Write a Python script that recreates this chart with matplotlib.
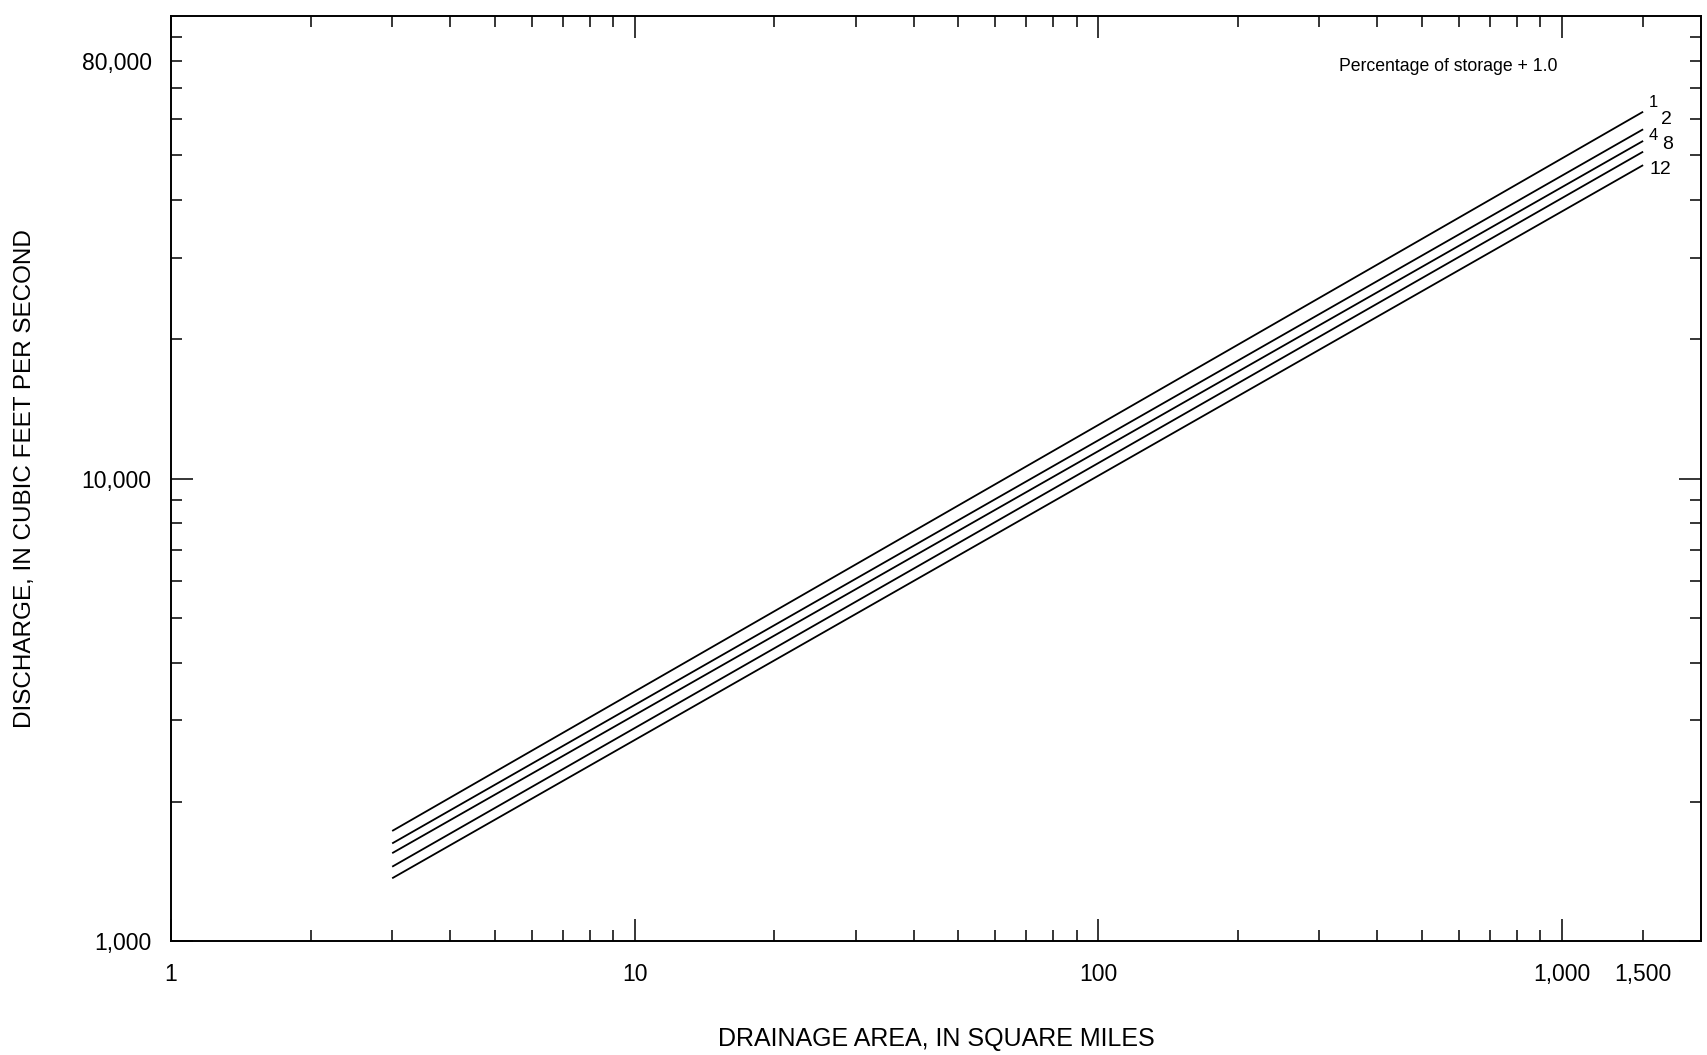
import matplotlib
matplotlib.use('Agg')
import matplotlib.pyplot as plt
from matplotlib.ticker import FixedLocator, NullFormatter

plt.rcParams['font.family'] = ['Liberation Sans', 'DejaVu Sans']

# drainage area (sq mi) at the two ends of each curve
AREA = [3, 1500]
# percentage of storage + 1.0
STORAGE = ['1', '2', '4', '8', '12']
# discharge (cfs) at 3 and 1,500 sq mi for each curve
Q_START = [1730, 1626, 1549, 1448, 1367]
Q_END = [62100, 56900, 53700, 50900, 47600]

X_MAJOR = [1, 10, 100, 1000, 1500]
X_LABELS = ['1', '10', '100', '1,000', '1,500']
Y_MAJOR = [1000, 10000, 80000]
Y_LABELS = ['1,000', '10,000', '80,000']

# label offsets in pixels from line end, and font sizes
LABEL_OFFSETS = [(10, 9), (23, 10), (10, 5), (24, 7), (17, -4)]
LABEL_SIZES = [12, 14, 12, 14, 14]


def main():
    fig = plt.figure(figsize=(17.07, 10.55), dpi=100)
    ax = fig.add_axes([0.1002, 0.108, 0.8963, 0.8768])

    ax.set_xscale('log')
    ax.set_yscale('log')
    ax.set_xlim(1, 2000)
    ax.set_ylim(1000, 100000)

    for i, name in enumerate(STORAGE):
        ys = [Q_START[i], Q_END[i]]
        ax.plot(AREA, ys, color='black', lw=1.3, solid_capstyle='butt')
        dx, dy = LABEL_OFFSETS[i]
        ax.annotate(name, xy=(AREA[-1], Q_END[i]), xytext=(dx, dy),
                    textcoords='offset pixels', ha='center', va='center',
                    fontsize=LABEL_SIZES[i])

    ax.text(0.835, 0.945, 'Percentage of storage + 1.0', transform=ax.transAxes,
            ha='center', va='center', fontsize=12.7)

    # ticks
    x_minor = [m * 10 ** e for e in range(0, 4) for m in range(2, 10)]
    x_minor = [v for v in x_minor if v < 2000 and v != 1500]
    y_minor = [m * 10 ** e for e in range(3, 5) for m in range(2, 10)]
    ax.xaxis.set_major_locator(FixedLocator(X_MAJOR))
    ax.xaxis.set_minor_locator(FixedLocator(x_minor))
    ax.set_xticklabels(X_LABELS)
    ax.xaxis.set_minor_formatter(NullFormatter())
    ax.yaxis.set_major_locator(FixedLocator(Y_MAJOR))
    ax.yaxis.set_minor_locator(FixedLocator(y_minor))
    ax.set_yticklabels(Y_LABELS)
    ax.yaxis.set_minor_formatter(NullFormatter())

    ax.tick_params(which='both', direction='in', top=True, right=True,
                   width=1.1, color='black')
    ax.tick_params(which='major', length=16, labelsize=16.5, pad=14)
    ax.tick_params(which='minor', length=8)
    ax.tick_params(axis='x', which='major', pad=16)
    # 1,500 and 80,000 get short ticks like the minor ones
    for tick in ax.xaxis.get_major_ticks()[-1:]:
        tick.tick1line.set_markersize(8)
        tick.tick2line.set_markersize(8)
    for tick in ax.yaxis.get_major_ticks()[-1:]:
        tick.tick1line.set_markersize(8)
        tick.tick2line.set_markersize(8)

    for s in ax.spines.values():
        s.set_linewidth(1.4)

    ax.set_xlabel('DRAINAGE AREA, IN SQUARE MILES', fontsize=18, labelpad=29)
    ax.set_ylabel('DISCHARGE, IN CUBIC FEET PER SECOND', fontsize=17.5, labelpad=33)

    fig.savefig('out.png', dpi=100, facecolor='white')


if __name__ == "__main__":
    main()
